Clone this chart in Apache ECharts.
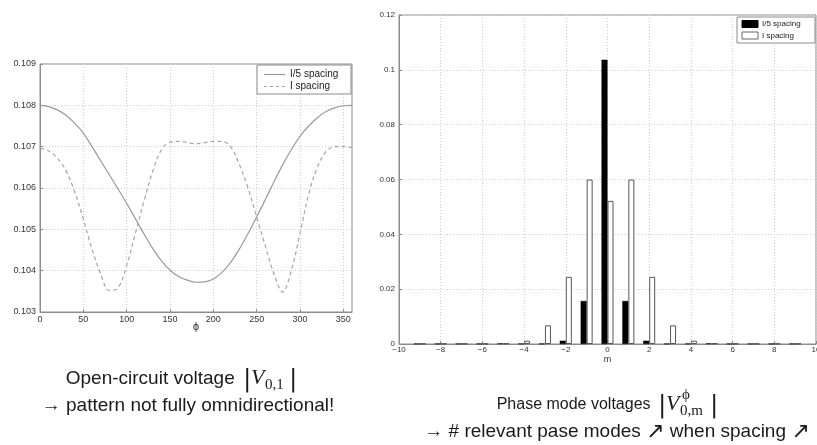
<!DOCTYPE html>
<html><head><meta charset="utf-8">
<script src="https://cdn.jsdelivr.net/npm/echarts@6/dist/echarts.min.js"></script>
<style>html,body{margin:0;padding:0;background:#fff}#c{width:817px;height:445px}</style>
</head><body><div id="c"></div>
<script>
// ---- Left chart: open-circuit voltage vs phi ----
const phiDeg = [0,10,20,30,40,50,60,70,80,90,100,110,120,130,140,150,160,170,180,190,200,210,220,230,240,250,260,270,280,290,300,310,320,330,340,350,360];
const vFifthSpacing = [0.10800,0.10797,0.10789,0.10776,0.10757,0.10733,0.10700,0.10666,0.10632,0.10598,0.10563,0.10526,0.10489,0.10454,0.10424,0.10401,0.10386,0.10377,0.10372,0.10373,0.10380,0.10396,0.10420,0.10452,0.10490,0.10530,0.10572,0.10615,0.10656,0.10693,0.10725,0.10750,0.10770,0.10785,0.10794,0.10799,0.10800];
const vFullSpacing = [0.10696,0.10690,0.10672,0.10642,0.10591,0.10525,0.10452,0.10392,0.10352,0.10358,0.10412,0.10490,0.10568,0.10640,0.10692,0.10711,0.10713,0.10710,0.10707,0.10710,0.10713,0.10713,0.10700,0.10657,0.10600,0.10530,0.10460,0.10392,0.10348,0.10400,0.10490,0.10585,0.10650,0.10688,0.10700,0.10700,0.10698];
const leftYTicks = ['0.103','0.104','0.105','0.106','0.107','0.108','0.109'];
const leftXTicks = ['0','50','100','150','200','250','300','350'];

// ---- Right chart: phase mode voltages ----
const modeIndex = [-9,-8,-7,-6,-5,-4,-3,-2,-1,0,1,2,3,4,5,6,7,8,9];
const modeFifthSpacing = [0.0001,0.0001,0.0001,0.0001,0.0002,0.0001,0.0001,0.0012,0.0157,0.1037,0.0157,0.0012,0.0001,0.0001,0.0002,0.0001,0.0001,0.0001,0.0001];
const modeFullSpacing = [0.0001,0.0001,0.0001,0.0001,0.0002,0.0012,0.0068,0.0245,0.0600,0.0522,0.0600,0.0245,0.0068,0.0012,0.0002,0.0001,0.0001,0.0001,0.0001];
const rightYTicks = ['0','0.02','0.04','0.06','0.08','0.1','0.12'];
const rightXTicks = ['-10','-8','-6','-4','-2','0','2','4','6','8','10'];

const seriesNames = ['I/5 spacing','I spacing'];

const chart = echarts.init(document.getElementById('c'), null, {renderer:'canvas'});
const axisFont = 'Liberation Sans';
const gridLine = {show:true, lineStyle:{color:'#cfcfcf', type:[1,2], width:1}};
const capFont = '19px "Liberation Sans", Arial, sans-serif';
const capFontR = '16px "Liberation Sans", Arial, sans-serif';
const mathFont = 'italic 22px "Liberation Serif", "DejaVu Serif", serif';
const barFont = '25px "DejaVu Serif", serif';
const subFont = '15px "Liberation Serif", "DejaVu Serif", serif';
const legFont = '10px "Liberation Sans", Arial, sans-serif';
const legFontR = '8px "Liberation Sans", Arial, sans-serif';

function txt(text, x, y, font, align, extra) {
  return Object.assign({type:'text', x:x, y:y, silent:true,
    style:{text:text, font:font, fill:'#1a1a1a', align:align||'left', verticalAlign:'middle', textAlign:align||'left', textVerticalAlign:'middle'}}, extra||{});
}
function ln(x1,y1,x2,y2,color,dash,z){
  return {type:'line', silent:true, z:z||101, shape:{x1:x1,y1:y1,x2:x2,y2:y2}, style:{stroke:color, lineWidth:1.2, lineDash:dash||null}};
}

const option = {
  animation:false,
  backgroundColor:'#fff',
  grid:[
    {left:40, top:64, width:312, height:248, show:true, borderColor:'#8c8c8c', borderWidth:1, backgroundColor:'transparent', outerBoundsMode:'none', containLabel:false},
    {left:399, top:15, width:417, height:329, show:true, borderColor:'#8c8c8c', borderWidth:1, backgroundColor:'transparent', outerBoundsMode:'none', containLabel:false}
  ],
  xAxis:[
    {type:'value', gridIndex:0, min:0, max:360, interval:50,
     name:'ϕ', nameLocation:'middle', nameGap:10, nameMoveOverlap:false, nameTextStyle:{fontSize:10, color:'#333', fontFamily:'DejaVu Sans'},
     axisLine:{show:true, onZero:false, lineStyle:{color:'#8c8c8c'}}, axisTick:{inside:true, length:3, lineStyle:{color:'#8c8c8c'}},
     axisLabel:{fontSize:9, color:'#333', fontFamily:axisFont, margin:3, showMaxLabel:false,
       formatter:(v)=>{const i=leftXTicks.indexOf(String(v)); return i>=0?leftXTicks[i]:'';}},
     splitLine:gridLine},
    {type:'value', gridIndex:1, min:-10, max:10, interval:2,
     name:'m', nameLocation:'middle', nameGap:11, nameMoveOverlap:false, nameTextStyle:{fontSize:9, color:'#333', fontFamily:axisFont},
     axisLine:{show:true, onZero:false, lineStyle:{color:'#8c8c8c'}}, axisTick:{inside:true, length:3, lineStyle:{color:'#8c8c8c'}},
     axisLabel:{fontSize:8, color:'#333', fontFamily:axisFont, margin:2,
       formatter:(v)=>{const i=rightXTicks.indexOf(String(v)); return i>=0?rightXTicks[i].replace('-','\u2212'):'';}},
     splitLine:gridLine}
  ],
  yAxis:[
    {type:'value', gridIndex:0, min:0.103, max:0.109, interval:0.001,
     axisLine:{show:true, onZero:false, lineStyle:{color:'#8c8c8c'}}, axisTick:{inside:true, length:3, lineStyle:{color:'#8c8c8c'}},
     axisLabel:{fontSize:9, color:'#333', fontFamily:axisFont, margin:4,
       formatter:(v)=>leftYTicks[Math.round((v-0.103)/0.001)]||''},
     splitLine:gridLine},
    {type:'value', gridIndex:1, min:0, max:0.12, interval:0.02,
     axisLine:{show:true, onZero:false, lineStyle:{color:'#8c8c8c'}}, axisTick:{inside:true, length:3, lineStyle:{color:'#8c8c8c'}},
     axisLabel:{fontSize:8, color:'#333', fontFamily:axisFont, margin:4,
       formatter:(v)=>rightYTicks[Math.round(v/0.02)]||''},
     splitLine:gridLine}
  ],
  series:[
    {name:seriesNames[0], type:'line', xAxisIndex:0, yAxisIndex:0, showSymbol:false, symbol:'none', smooth:0.35,
     lineStyle:{color:'#9a9a9a', width:1.2, type:'solid'}, itemStyle:{color:'#9a9a9a'},
     data:phiDeg.map((p,i)=>[p, vFifthSpacing[i]])},
    {name:seriesNames[1], type:'line', xAxisIndex:0, yAxisIndex:0, showSymbol:false, symbol:'none', smooth:0.35,
     lineStyle:{color:'#a6a6a6', width:1.2, type:[4,3]}, itemStyle:{color:'#a6a6a6'},
     data:phiDeg.map((p,i)=>[p, vFullSpacing[i]])},
    {name:'b1', type:'bar', xAxisIndex:1, yAxisIndex:1, barWidth:6, barGap:'0%',
     itemStyle:{color:'#000', borderColor:'#000', borderWidth:0.5},
     data:modeIndex.map((m,i)=>[m, modeFifthSpacing[i]])},
    {name:'b2', type:'bar', xAxisIndex:1, yAxisIndex:1, barWidth:6, barGap:'0%',
     itemStyle:{color:'#fff', borderColor:'#555', borderWidth:1},
     data:modeIndex.map((m,i)=>[m, modeFullSpacing[i]])}
  ],
  graphic:[
    // left chart legend box
    {type:'rect', shape:{x:257, y:65, width:94, height:29}, style:{fill:'#fff', stroke:'#8c8c8c', lineWidth:1}, silent:true, z:100},
    ln(264, 74.5, 285, 74.5, '#9a9a9a', null),
    ln(264, 86.5, 285, 86.5, '#a6a6a6', [3,3]),
    txt(seriesNames[0], 290, 74.5, legFont, 'left', {z:101}),
    txt(seriesNames[1], 290, 86.5, legFont, 'left', {z:101}),
    // right chart legend box (bar legend)
    {type:'rect', shape:{x:737, y:17, width:78, height:26}, style:{fill:'#fff', stroke:'#8c8c8c', lineWidth:1}, silent:true, z:100},
    {type:'rect', shape:{x:742, y:20.5, width:16, height:7}, style:{fill:'#000', stroke:'#000', lineWidth:1}, silent:true, z:101},
    {type:'rect', shape:{x:742, y:32, width:16, height:7}, style:{fill:'#fff', stroke:'#666', lineWidth:1}, silent:true, z:101},
    txt(seriesNames[0], 762, 24, legFontR, 'left', {z:101}),
    txt(seriesNames[1], 762, 35.5, legFontR, 'left', {z:101}),
    // left captions
    txt('Open-circuit voltage ', 240, 379, capFont, 'right'),
    txt('|', 243, 379, barFont, 'left'),
    txt('V', 251, 378, mathFont, 'left'),
    txt('0,1', 265, 385, subFont, 'left'),
    txt('|', 289, 379, barFont, 'left'),
    txt('\u2192 pattern not fully omnidirectional!', 188, 406, capFont, 'center'),
    // right captions
    txt('Phase mode voltages ', 655, 405, capFontR, 'right'),
    txt('|', 658, 405, barFont, 'left'),
    txt('V', 666, 404, mathFont, 'left'),
    txt('\u03d5', 682, 395, subFont, 'left'),
    txt('0,m', 680, 411, subFont, 'left'),
    txt('|', 710, 405, barFont, 'left'),
    {type:'text', x:617, y:432, silent:true,
     style:{text:'{a|\u2192 # relevant pase modes }{b|\u2197}{a| when spacing }{b|\u2197}',
       align:'center', verticalAlign:'middle', textAlign:'center', textVerticalAlign:'middle', fill:'#1a1a1a',
       rich:{a:{font:capFont, fill:'#1a1a1a', verticalAlign:'middle'}, b:{font:'22px "DejaVu Sans", sans-serif', fill:'#1a1a1a', verticalAlign:'middle'}}}}
  ]
};
chart.setOption(option);
</script>
</body></html>
